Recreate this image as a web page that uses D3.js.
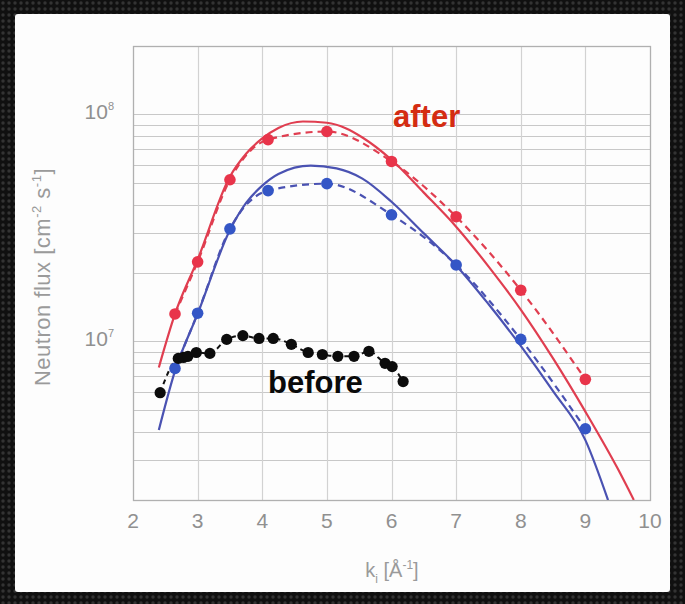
<!DOCTYPE html>
<html>
<head>
<meta charset="utf-8">
<script src="https://cdn.jsdelivr.net/npm/d3@7/dist/d3.min.js"></script>
<style>
  html, body { margin: 0; padding: 0; background: #141414; }
  svg { display: block; }
  text { font-family: "Liberation Sans", Arial, Helvetica, sans-serif; }
</style>
</head>
<body>
<div id="container"></div>
<script>
var W = 685, H = 604;

// x ticks and y decades
var xTicks = [2, 3, 4, 5, 6, 7, 8, 9, 10];
var yDecades = [7, 8];

// "after" model curves (solid) : k, flux
var redFitK = [2.4, 2.65, 3.0, 3.5, 3.75, 4.0, 4.25, 4.63, 5.0, 5.3, 5.55, 6.0, 6.5, 7.0, 7.5, 8.0, 8.5, 9.0, 9.5, 9.75];
var redFitV = [7.67e6, 1.32e7, 2.29e7, 5.32e7, 6.71e7, 7.83e7, 8.71e7, 9.30e7, 9.18e7, 8.67e7, 7.91e7, 6.31e7, 4.52e7, 3.20e7, 2.14e7, 1.38e7, 8.41e6, 4.90e6, 2.75e6, 2.0e6];
var blueFitK = [2.4, 2.65, 3.0, 3.5, 3.75, 4.0, 4.25, 4.75, 5.15, 5.55, 6.0, 6.5, 7.0, 7.5, 8.0, 8.5, 9.0, 9.35];
var blueFitV = [4.07e6, 7.41e6, 1.32e7, 3.09e7, 4.07e7, 4.85e7, 5.46e7, 5.94e7, 5.78e7, 5.21e7, 4.12e7, 2.99e7, 2.16e7, 1.46e7, 9.55e6, 6.03e6, 3.67e6, 2.0e6];

// measured points (dashed through them)
var measK = [2.65, 3.0, 3.5, 4.09, 5.0, 6.0, 7.0, 8.0, 9.0];
var redMeas = [1.32e7, 2.24e7, 5.15e7, 7.74e7, 8.4e7, 6.2e7, 3.54e7, 1.68e7, 6.8e6];
var blueMeas = [7.6e6, 1.33e7, 3.13e7, 4.61e7, 4.95e7, 3.61e7, 2.17e7, 1.02e7, 4.12e6];

// "before"
var beforeK = [2.42, 2.70, 2.78, 2.85, 2.98, 3.19, 3.45, 3.70, 3.95, 4.17, 4.45, 4.71, 4.93, 5.17, 5.42, 5.65, 5.90, 6.01, 6.18];
var beforeV = [5.94e6, 8.41e6, 8.49e6, 8.59e6, 8.93e6, 8.85e6, 1.02e7, 1.06e7, 1.03e7, 1.03e7, 9.70e6, 8.93e6, 8.75e6, 8.59e6, 8.59e6, 9.04e6, 8.00e6, 7.74e6, 6.65e6];

var plot = { left: 133, right: 650, top: 46, bottom: 500 };

var svg = d3.select('#container').append('svg')
  .attr('width', W).attr('height', H);

var defs = svg.append('defs');
var pat = defs.append('pattern')
  .attr('id', 'grille').attr('width', 6).attr('height', 6)
  .attr('patternUnits', 'userSpaceOnUse');
pat.append('rect').attr('width', 6).attr('height', 6).attr('fill', '#101010');
pat.append('circle').attr('cx', 3).attr('cy', 3).attr('r', 1.7).attr('fill', '#333');
defs.append('clipPath').attr('id', 'clip').append('rect')
  .attr('x', plot.left).attr('y', plot.top)
  .attr('width', plot.right - plot.left).attr('height', plot.bottom - plot.top);

svg.append('rect').attr('width', W).attr('height', H).attr('fill', 'url(#grille)');
svg.append('rect').attr('x', 15).attr('y', 14).attr('width', 655).attr('height', 578)
  .attr('rx', 3).attr('fill', '#fdfdfd');

var x = d3.scaleLinear().domain([2, 10]).range([plot.left, plot.right]);
var y = d3.scaleLog().domain([2e6, 2e8]).range([plot.bottom, plot.top]);

// grid
var g = svg.append('g');
var minor = y.ticks().filter(function (v) { return v > 2e6 && v < 2e8; });
g.selectAll('.hg').data(minor).enter().append('line')
  .attr('x1', plot.left).attr('x2', plot.right)
  .attr('y1', function (d) { return Math.round(y(d)) + 0.5; })
  .attr('y2', function (d) { return Math.round(y(d)) + 0.5; })
  .attr('stroke', '#c8c8c8').attr('stroke-width', 1.2);
g.selectAll('.vg').data(xTicks.slice(1, -1)).enter().append('line')
  .attr('y1', plot.top).attr('y2', plot.bottom)
  .attr('x1', function (d) { return Math.round(x(d)) + 0.5; })
  .attr('x2', function (d) { return Math.round(x(d)) + 0.5; })
  .attr('stroke', '#d2d2d2').attr('stroke-width', 1.2);
g.append('rect')
  .attr('x', plot.left + 0.5).attr('y', plot.top + 0.5)
  .attr('width', plot.right - plot.left).attr('height', plot.bottom - plot.top)
  .attr('fill', 'none').attr('stroke', '#b0b0b0').attr('stroke-width', 1.3);

// tick labels
svg.selectAll('.xt').data(xTicks).enter().append('text')
  .attr('x', function (d) { return x(d); })
  .attr('y', 528)
  .attr('text-anchor', 'middle')
  .attr('font-size', 21)
  .attr('fill', '#909090')
  .text(function (d) { return d; });

var yt = svg.selectAll('.yt').data(yDecades).enter().append('text')
  .attr('x', 114)
  .attr('y', function (d) { return y(Math.pow(10, d)) + 5; })
  .attr('text-anchor', 'end')
  .attr('font-size', 21)
  .attr('fill', '#909090');
yt.append('tspan').text('10');
yt.append('tspan').attr('dy', -9).attr('font-size', 11)
  .text(function (d) { return d; });

// axis titles
var yl = svg.append('text')
  .attr('transform', 'translate(50,' + 277 + ') rotate(-90)')
  .attr('text-anchor', 'middle')
  .attr('font-size', 22)
  .attr('letter-spacing', 0.5)
  .attr('fill', '#9a9a9a');
yl.append('tspan').text('Neutron flux [cm');
yl.append('tspan').attr('dy', -9).attr('font-size', 13).text('-2');
yl.append('tspan').attr('dy', 9).text(' s');
yl.append('tspan').attr('dy', -9).attr('font-size', 13).text('-1');
yl.append('tspan').attr('dy', 9).text(']');

var xl = svg.append('text')
  .attr('x', 392).attr('y', 577)
  .attr('text-anchor', 'middle')
  .attr('font-size', 20)
  .attr('fill', '#9a9a9a');
xl.append('tspan').text('k');
xl.append('tspan').attr('dy', 6).attr('font-size', 12).text('i');
xl.append('tspan').attr('dy', -6).text(' [Å');
xl.append('tspan').attr('dy', -8).attr('font-size', 12).text('-1');
xl.append('tspan').attr('dy', 8).text(']');

// curves
var line = d3.line()
  .x(function (d) { return x(d[0]); })
  .y(function (d) { return y(d[1]); })
  .curve(d3.curveMonotoneX);

var plotG = svg.append('g').attr('clip-path', 'url(#clip)');

function series(ks, vs, color, dash, width) {
  plotG.append('path')
    .datum(d3.zip(ks, vs))
    .attr('d', line)
    .attr('fill', 'none')
    .attr('stroke', color)
    .attr('stroke-width', width)
    .attr('stroke-dasharray', dash);
}

function dots(ks, vs, color, r) {
  plotG.selectAll(null).data(d3.zip(ks, vs)).enter().append('circle')
    .attr('cx', function (d) { return x(d[0]); })
    .attr('cy', function (d) { return y(d[1]); })
    .attr('r', r)
    .attr('fill', color);
}

series(redFitK, redFitV, '#e03e50', null, 2.2);
series(measK, redMeas, '#e03e50', '7,5', 2.2);
series(blueFitK, blueFitV, '#4a52b2', null, 2.2);
series(measK, blueMeas, '#4a52b2', '7,5', 2.2);
series(beforeK, beforeV, '#111', '5,4', 2);
dots(measK, redMeas, '#e8344a', 5.8);
dots(measK, blueMeas, '#3456c6', 5.8);
dots(beforeK, beforeV, '#0c0c0c', 5.6);

// labels
svg.append('text').attr('x', 393).attr('y', 127)
  .attr('font-size', 31).attr('font-weight', 'bold')
  .attr('fill', '#d42c12').text('after');
svg.append('text').attr('x', 268).attr('y', 393)
  .attr('font-size', 31).attr('font-weight', 'bold')
  .attr('fill', '#0a0a0a').text('before');
</script>
</body>
</html>
